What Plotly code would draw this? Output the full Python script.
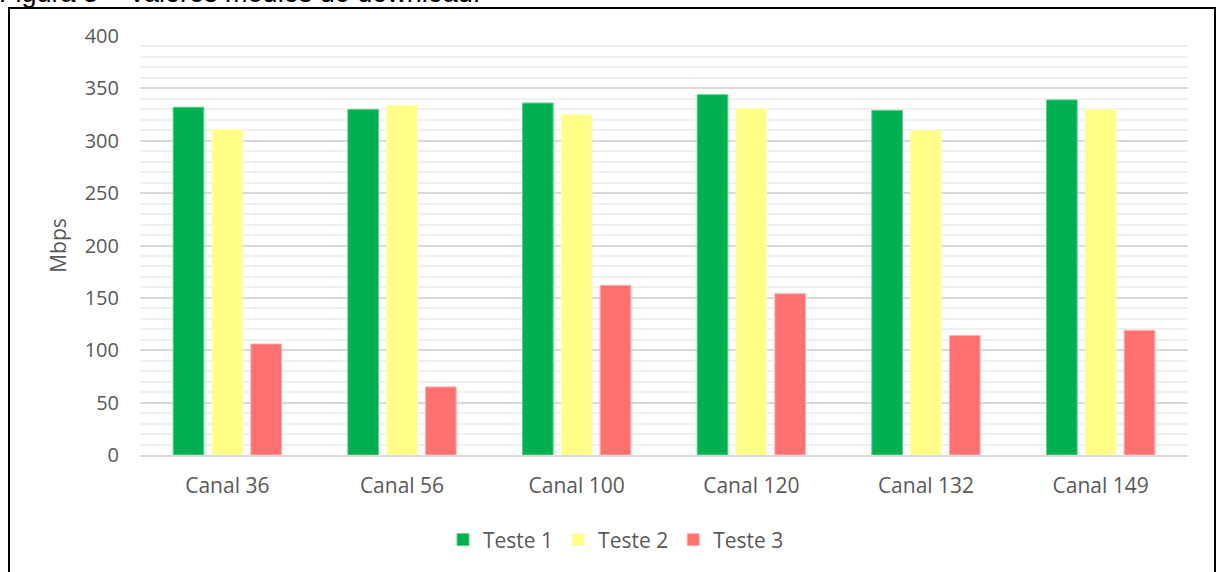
import plotly.graph_objects as go

categories = ["Canal 36", "Canal 56", "Canal 100", "Canal 120", "Canal 132", "Canal 149"]
teste1 = [332, 330, 336, 344, 329, 339]
teste2 = [311, 334, 325, 331, 310, 330]
teste3 = [106, 65, 162, 154, 114, 119]
series_names = ["Teste 1", "Teste 2", "Teste 3"]
colors = ["#00B050", "#FFFF88", "#FF7171"]
edge_colors = ["#5fd08f", "#ffffc0", "#ffb0b0"]

FONT = "Open Sans, Lato, sans-serif"
GRAY = "#595959"

fig = go.Figure()
for name, vals, c, ec in zip(series_names, [teste1, teste2, teste3], colors, edge_colors):
    fig.add_trace(go.Bar(
        x=categories, y=vals, name=name,
        marker=dict(color=c, line=dict(color=ec, width=1)),
    ))

# plot area pixels: x 140-1188, y 36-455
L, R, T, B = 140, 30, 36, 117
W, H = 1218, 572
pw, ph = W - L - R, H - T - B

def px_x(p):
    return (p - L) / pw

def px_y(p):
    return (H - B - p) / ph

fig.update_layout(
    width=W, height=H,
    margin=dict(l=L, r=R, t=T, b=B, pad=0),
    paper_bgcolor="white", plot_bgcolor="white",
    barmode="group", bargap=0.333, bargroupgap=0.21,
    font=dict(family=FONT, size=20, color=GRAY),
    showlegend=True,
    legend=dict(orientation="h", x=px_x(616), xanchor="center", y=px_y(540), yanchor="middle",
                font=dict(family=FONT, size=21, color=GRAY), itemwidth=30,
                traceorder="normal"),
    xaxis=dict(showgrid=False, showline=True, linecolor="#d9d9d9", linewidth=1.5,
               ticks="", ticklabelstandoff=11,
               tickfont=dict(family=FONT, size=21, color=GRAY)),
    yaxis=dict(range=[0, 400], dtick=50, tick0=0, showgrid=True, gridcolor="#d9d9d9",
               gridwidth=1.5, zeroline=False, showline=False, ticks="", ticklabelstandoff=20,
               tickfont=dict(family=FONT, size=20, color=GRAY),
               title=dict(text="Mbps", font=dict(family=FONT, size=21, color=GRAY), standoff=12),
               minor=dict(dtick=10, showgrid=True, gridcolor="#f0f0f0", gridwidth=1.5)),
    shapes=[dict(type="rect", xref="paper", yref="paper",
                 x0=px_x(9), x1=px_x(1215), y0=px_y(640), y1=px_y(8),
                 line=dict(color="black", width=2), fillcolor="rgba(0,0,0,0)", layer="above")],
    annotations=[dict(text="Figura 3 – Valores médios de download.", xref="paper", yref="paper",
                      x=px_x(-3), xanchor="left", y=px_y(10.5), yanchor="bottom", showarrow=False,
                      font=dict(family="Liberation Sans, Arial", size=27, color="black"))],
)

fig.write_html("out.html", config={"displayModeBar": False},
               post_script="document.body.style.margin='0';document.body.style.overflow='hidden';")
